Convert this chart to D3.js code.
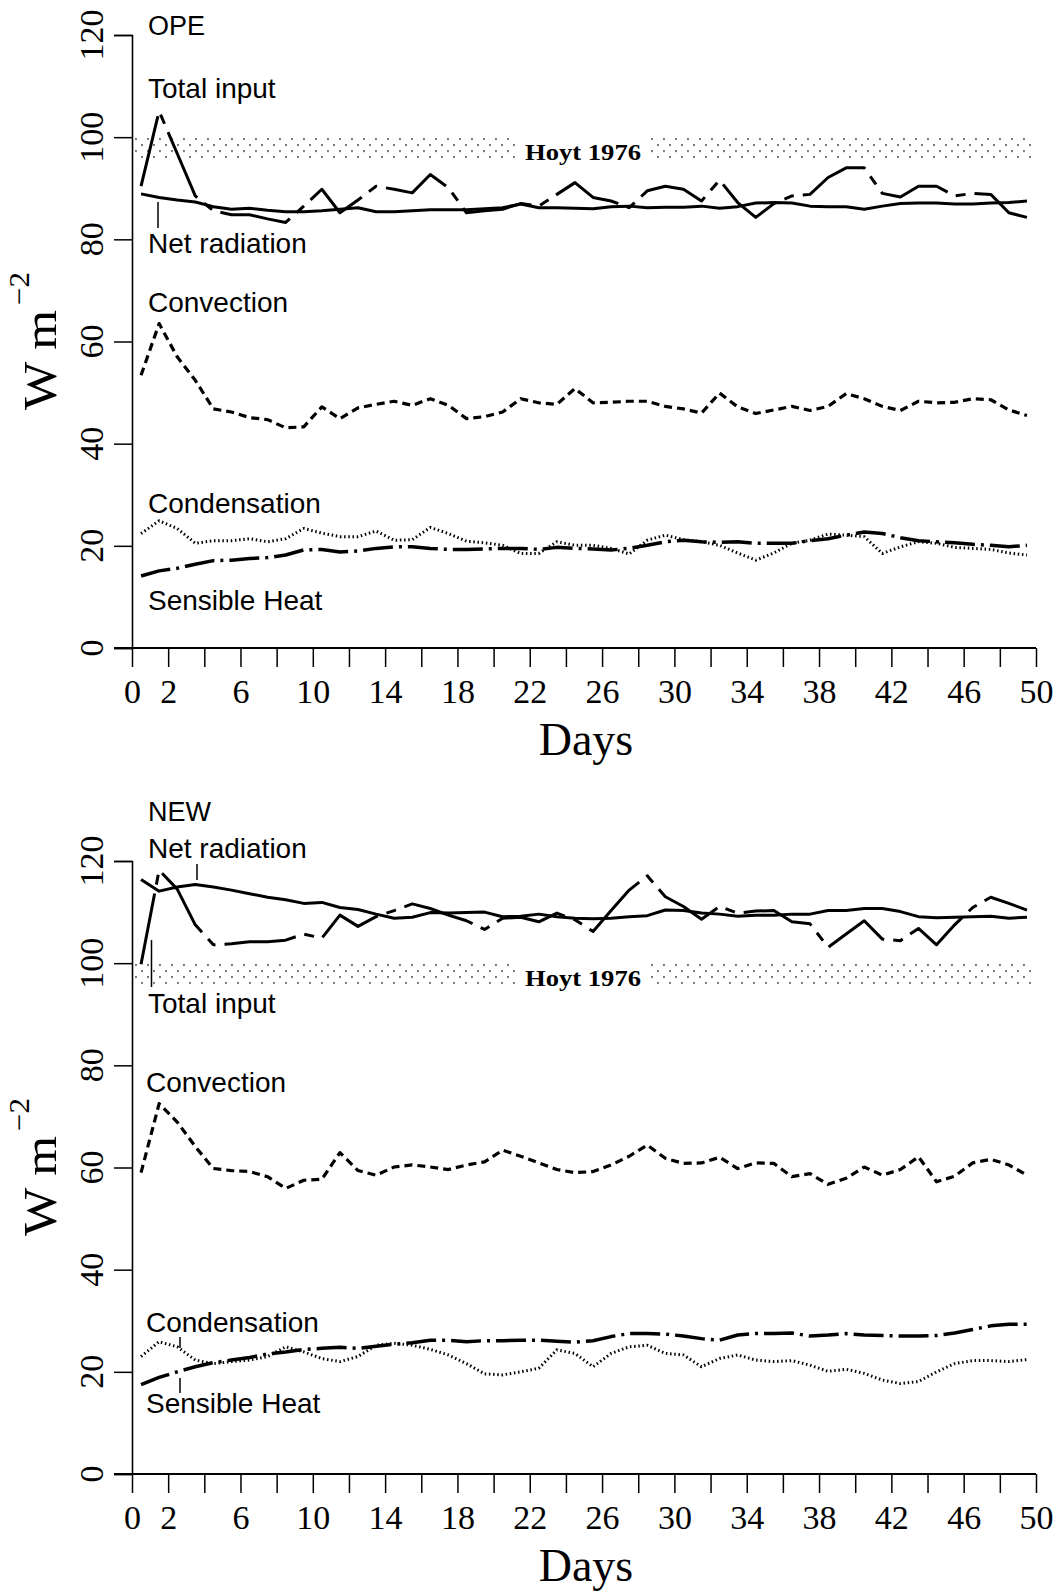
<!DOCTYPE html>
<html>
<head>
<meta charset="utf-8">
<script src="https://cdn.jsdelivr.net/npm/d3@7"></script>
<style>
  html, body { margin: 0; padding: 0; background: #fff; }
  svg { display: block; }
</style>
</head>
<body>
<svg id="chart" width="1062" height="1593"></svg>
<script>
// Day midpoints at which the fluxes are sampled
const days = [0.5, 1.5, 2.5, 3.5, 4.5, 5.5, 6.5, 7.5, 8.5, 9.5,
  10.5, 11.5, 12.5, 13.5, 14.5, 15.5, 16.5, 17.5, 18.5, 19.5,
  20.5, 21.5, 22.5, 23.5, 24.5, 25.5, 26.5, 27.5, 28.5, 29.5,
  30.5, 31.5, 32.5, 33.5, 34.5, 35.5, 36.5, 37.5, 38.5, 39.5,
  40.5, 41.5, 42.5, 43.5, 44.5, 45.5, 46.5, 47.5, 48.5, 49.5];

const xTickValues = [0, 2, 4, 6, 8, 10, 12, 14, 16, 18, 20, 22, 24, 26, 28, 30,
  32, 34, 36, 38, 40, 42, 44, 46, 48, 50];
const xTickLabels = [0, 2, 6, 10, 14, 18, 22, 26, 30, 34, 38, 42, 46, 50];
const yTickValues = [0, 20, 40, 60, 80, 100, 120];
const hoytBand = [96, 100];

// OPE run (W m^-2)
const opeTotalInput = [90.4, 105.1, 96.8, 88.5, 85.6, 84.8, 84.8, 84.0, 83.3, 86.5,
  89.8, 85.2, 87.7, 90.4, 89.8, 89.1, 92.7, 90.1, 85.2, 85.6,
  85.9, 87.0, 86.5, 88.8, 91.1, 88.2, 87.5, 86.2, 89.5, 90.4,
  89.8, 87.5, 91.6, 87.2, 84.3, 87.0, 88.5, 88.8, 92.1, 94.0,
  94.0, 89.0, 88.3, 90.4, 90.4, 88.5, 89.0, 88.8, 85.2, 84.3];
const opeNetRadiation = [88.9, 88.2, 87.7, 87.3, 86.4, 85.9, 86.1, 85.7, 85.4, 85.4,
  85.6, 85.9, 86.2, 85.4, 85.4, 85.6, 85.8, 85.8, 85.8, 86.0,
  86.2, 86.9, 86.2, 86.2, 86.1, 86.0, 86.4, 86.5, 86.2, 86.3,
  86.3, 86.5, 86.1, 86.4, 87.1, 87.2, 87.1, 86.5, 86.4, 86.4,
  85.9, 86.5, 87.0, 87.1, 87.1, 86.9, 86.9, 87.1, 87.2, 87.5];
const opeConvection = [53.4, 63.5, 57.0, 52.4, 46.8, 46.2, 45.1, 44.7, 43.1, 43.3,
  47.2, 44.9, 47.0, 47.7, 48.3, 47.5, 48.8, 47.5, 44.9, 45.3,
  46.2, 48.8, 48.0, 47.7, 50.8, 48.0, 48.1, 48.3, 48.3, 47.3,
  46.8, 46.0, 49.9, 47.2, 45.9, 46.6, 47.3, 46.5, 47.3, 49.8,
  48.8, 47.3, 46.5, 48.3, 48.0, 48.1, 48.8, 48.6, 46.6, 45.5];
const opeCondensation = [22.4, 24.9, 23.4, 20.5, 21.0, 21.0, 21.4, 20.8, 21.4, 23.4,
  22.5, 21.8, 21.8, 22.9, 21.1, 21.2, 23.6, 22.4, 20.9, 20.6,
  20.1, 18.5, 18.5, 20.8, 20.1, 20.1, 19.5, 18.4, 21.1, 22.1,
  21.2, 20.8, 20.1, 18.6, 17.2, 18.6, 20.5, 21.1, 22.3, 22.1,
  21.8, 18.5, 19.8, 20.8, 20.5, 19.7, 19.5, 19.3, 18.6, 18.2];
const opeSensibleHeat = [14.1, 15.1, 15.6, 16.4, 17.1, 17.2, 17.5, 17.7, 18.2, 19.2,
  19.3, 18.8, 19.0, 19.5, 19.8, 19.8, 19.5, 19.3, 19.3, 19.4,
  19.5, 19.5, 19.3, 19.7, 19.5, 19.4, 19.2, 19.5, 20.1, 20.8,
  21.1, 20.8, 20.7, 20.8, 20.5, 20.5, 20.5, 21.0, 21.4, 22.1,
  22.7, 22.4, 21.6, 21.0, 20.8, 20.6, 20.3, 20.1, 19.8, 20.1];

// NEW run (W m^-2)
const newTotalInput = [99.8, 118.2, 114.5, 107.5, 103.6, 103.8, 104.2, 104.2, 104.5, 105.7,
  104.9, 109.4, 107.2, 109.1, 110.3, 111.6, 110.7, 109.4, 108.3, 106.6,
  108.8, 109.0, 108.1, 109.8, 108.5, 106.2, 110.3, 114.3, 117.1, 113.0,
  111.1, 108.6, 111.1, 109.8, 110.2, 110.3, 108.1, 107.7, 103.1, 105.7,
  108.3, 104.7, 104.4, 106.8, 103.6, 107.5, 110.9, 112.9, 111.7, 110.4];
const newNetRadiation = [116.4, 114.1, 114.9, 115.4, 114.9, 114.3, 113.6, 112.9, 112.4, 111.7,
  111.9, 110.9, 110.5, 109.6, 108.8, 109.0, 109.9, 109.8, 109.9, 110.0,
  109.1, 109.2, 109.6, 109.1, 108.8, 108.7, 108.8, 109.1, 109.3, 110.4,
  110.3, 109.8, 109.6, 109.2, 109.4, 109.4, 109.6, 109.6, 110.3, 110.3,
  110.7, 110.7, 110.1, 109.1, 108.9, 109.0, 109.1, 109.2, 108.8, 109.0];
const newConvection = [59.0, 72.5, 68.9, 64.1, 59.8, 59.4, 59.2, 58.2, 55.9, 57.5,
  57.7, 62.9, 59.4, 58.5, 60.1, 60.5, 60.1, 59.6, 60.5, 61.1,
  63.4, 62.2, 60.9, 59.6, 59.0, 59.2, 60.5, 62.2, 64.4, 61.8,
  60.8, 60.9, 62.0, 59.8, 60.9, 60.8, 58.2, 58.8, 56.7, 57.9,
  60.1, 58.5, 59.6, 62.1, 57.2, 58.3, 60.9, 61.6, 60.5, 58.5];
const newCondensation = [23.0, 25.9, 24.9, 22.3, 21.6, 22.0, 22.3, 23.0, 24.9, 23.9,
  22.6, 22.0, 23.0, 25.2, 25.6, 25.2, 24.4, 23.3, 21.6, 19.6,
  19.4, 20.0, 20.7, 24.3, 23.6, 21.0, 23.6, 24.9, 25.2, 23.6,
  23.3, 21.0, 22.6, 23.3, 22.3, 22.0, 22.2, 21.3, 20.1, 20.5,
  19.7, 18.4, 17.7, 18.1, 20.0, 21.6, 22.2, 22.2, 22.0, 22.4];
const newSensibleHeat = [17.5, 18.9, 20.0, 21.0, 21.8, 22.3, 22.8, 23.5, 23.9, 24.4,
  24.6, 24.8, 24.6, 25.0, 25.4, 25.7, 26.2, 26.2, 25.9, 26.1,
  26.1, 26.2, 26.2, 26.0, 25.8, 26.1, 26.9, 27.5, 27.5, 27.4,
  27.0, 26.5, 26.2, 27.2, 27.5, 27.5, 27.6, 27.0, 27.2, 27.5,
  27.2, 27.1, 27.0, 27.0, 27.1, 27.6, 28.3, 29.0, 29.3, 29.3];

const SERIF = "'Liberation Serif', 'Times New Roman', serif";
const SANS = "'Liberation Sans', Arial, Helvetica, sans-serif";

// Line styles shared by both panels
const styles = {
  total:        { width: 3.0, dash: "72 9 10 9" },
  net:          { width: 3.0, dash: null },
  convection:   { width: 3.2, dash: "8 5" },
  condensation: { width: 3.0, dash: "1.5 2.7" },
  sensible:     { width: 3.5, dash: "30 6 3 6" }
};

const panels = [
  {
    id: "ope", base: 648, top: 35,
    series: { total: opeTotalInput, net: opeNetRadiation, convection: opeConvection,
              condensation: opeCondensation, sensible: opeSensibleHeat },
    labels: [
      { t: "OPE", x: 148, y: 35, size: 27 },
      { t: "Total input", x: 148, y: 98 },
      { t: "Net radiation", x: 148, y: 253 },
      { t: "Convection", x: 148, y: 312 },
      { t: "Condensation", x: 148, y: 513 },
      { t: "Sensible Heat", x: 148, y: 610 }
    ],
    leaders: [[158, 202, 228]]
  },
  {
    id: "new", base: 1474, top: 861,
    series: { total: newTotalInput, net: newNetRadiation, convection: newConvection,
              condensation: newCondensation, sensible: newSensibleHeat },
    labels: [
      { t: "NEW", x: 148, y: 821, size: 27 },
      { t: "Net radiation", x: 148, y: 858 },
      { t: "Total input", x: 148, y: 1013 },
      { t: "Convection", x: 146, y: 1092 },
      { t: "Condensation", x: 146, y: 1332 },
      { t: "Sensible Heat", x: 146, y: 1413 }
    ],
    leaders: [[197, 864, 880], [151.5, 940, 987], [180, 1337, 1348], [180, 1378, 1393]]
  }
];

const svg = d3.select("#chart");
svg.append("rect").attr("width", 1062).attr("height", 1593).attr("fill", "#fff");
const defs = svg.append("defs");

const x = d3.scaleLinear().domain([0, 50]).range([132, 1036]);

panels.forEach(p => {
  const y = d3.scaleLinear().domain([0, 120]).range([p.base, p.top]);
  const g = svg.append("g").attr("class", "panel-" + p.id);

  // Stippled reference band
  const bandTop = y(hoytBand[1]), bandBot = y(hoytBand[0]);
  const pat = defs.append("pattern")
    .attr("id", "dots-" + p.id)
    .attr("patternUnits", "userSpaceOnUse")
    .attr("x", 134).attr("y", bandTop)
    .attr("width", 12).attr("height", 12);
  pat.append("circle").attr("cx", 2).attr("cy", 1.8).attr("r", 0.85).attr("fill", "#000");
  pat.append("circle").attr("cx", 8).attr("cy", 7.8).attr("r", 0.85).attr("fill", "#000");
  g.append("rect")
    .attr("x", 134).attr("y", bandTop)
    .attr("width", 1032 - 134).attr("height", bandBot - bandTop + 1)
    .attr("fill", `url(#dots-${p.id})`);
  g.append("rect")
    .attr("x", 519).attr("y", bandTop - 1)
    .attr("width", 128).attr("height", bandBot - bandTop + 4)
    .attr("fill", "#fff");
  g.append("text")
    .attr("x", 583).attr("y", bandBot + 2.5)
    .attr("text-anchor", "middle")
    .attr("font-family", SERIF).attr("font-weight", "bold").attr("font-size", 24)
    .attr("textLength", 116).attr("lengthAdjust", "spacingAndGlyphs")
    .text("Hoyt 1976");

  // X axis
  const xAxis = d3.axisBottom(x)
    .tickValues(xTickValues)
    .tickSize(19)
    .tickPadding(12)
    .tickFormat(d => xTickLabels.includes(d) ? d : "");
  const gx = g.append("g").attr("transform", `translate(0,${p.base})`).call(xAxis);
  gx.select(".domain").remove();
  gx.selectAll(".tick line").attr("stroke", "#000").attr("stroke-width", 1.5);
  gx.selectAll(".tick text")
    .attr("font-family", SERIF).attr("font-size", 34).attr("fill", "#000");
  g.append("line")
    .attr("x1", 114).attr("x2", 1036).attr("y1", p.base).attr("y2", p.base)
    .attr("stroke", "#000").attr("stroke-width", 2.2);

  // Y axis
  const yAxis = d3.axisLeft(y).tickValues(yTickValues).tickSize(18).tickFormat("");
  const gy = g.append("g").attr("transform", "translate(132,0)").call(yAxis);
  gy.select(".domain").attr("stroke", "#000").attr("stroke-width", 1.6);
  gy.selectAll(".tick line").attr("stroke", "#000").attr("stroke-width", 1.5);
  g.selectAll(".ylab")
    .data(yTickValues)
    .join("text")
    .attr("class", "ylab")
    .attr("transform", d => `translate(103,${y(d)}) rotate(-90)`)
    .attr("text-anchor", "middle")
    .attr("font-family", SERIF).attr("font-size", 34)
    .text(d => d);

  // Axis titles
  g.append("text")
    .attr("transform", `translate(56,${p.base - 238}) rotate(-90)`)
    .attr("font-family", SERIF).attr("font-size", 46)
    .attr("textLength", 100).attr("lengthAdjust", "spacingAndGlyphs")
    .text("W m");
  g.append("text")
    .attr("transform", `translate(29,${p.base - 343}) rotate(-90)`)
    .attr("font-family", SERIF).attr("font-size", 30)
    .attr("textLength", 33).attr("lengthAdjust", "spacingAndGlyphs")
    .text("\u22122");
  g.append("text")
    .attr("x", 586).attr("y", p.base + 107)
    .attr("text-anchor", "middle")
    .attr("font-family", SERIF).attr("font-size", 46)
    .text("Days");

  // Flux curves
  const line = d3.line()
    .x((d, i) => x(days[i]))
    .y(d => y(d));
  Object.keys(p.series).forEach(key => {
    const s = styles[key];
    g.append("path")
      .datum(p.series[key])
      .attr("d", line)
      .attr("fill", "none")
      .attr("stroke", "#000")
      .attr("stroke-width", s.width)
      .attr("stroke-dasharray", s.dash)
      .attr("stroke-linejoin", "round");
  });

  // Curve names and their pointer ticks
  p.labels.forEach(l => {
    g.append("text")
      .attr("x", l.x).attr("y", l.y)
      .attr("font-family", SANS).attr("font-size", l.size || 28)
      .attr("fill", "#000")
      .text(l.t);
  });
  p.leaders.forEach(([lx, y1, y2]) => {
    g.append("line")
      .attr("x1", lx).attr("x2", lx).attr("y1", y1).attr("y2", y2)
      .attr("stroke", "#000").attr("stroke-width", 1.5);
  });
});
</script>
</body>
</html>
